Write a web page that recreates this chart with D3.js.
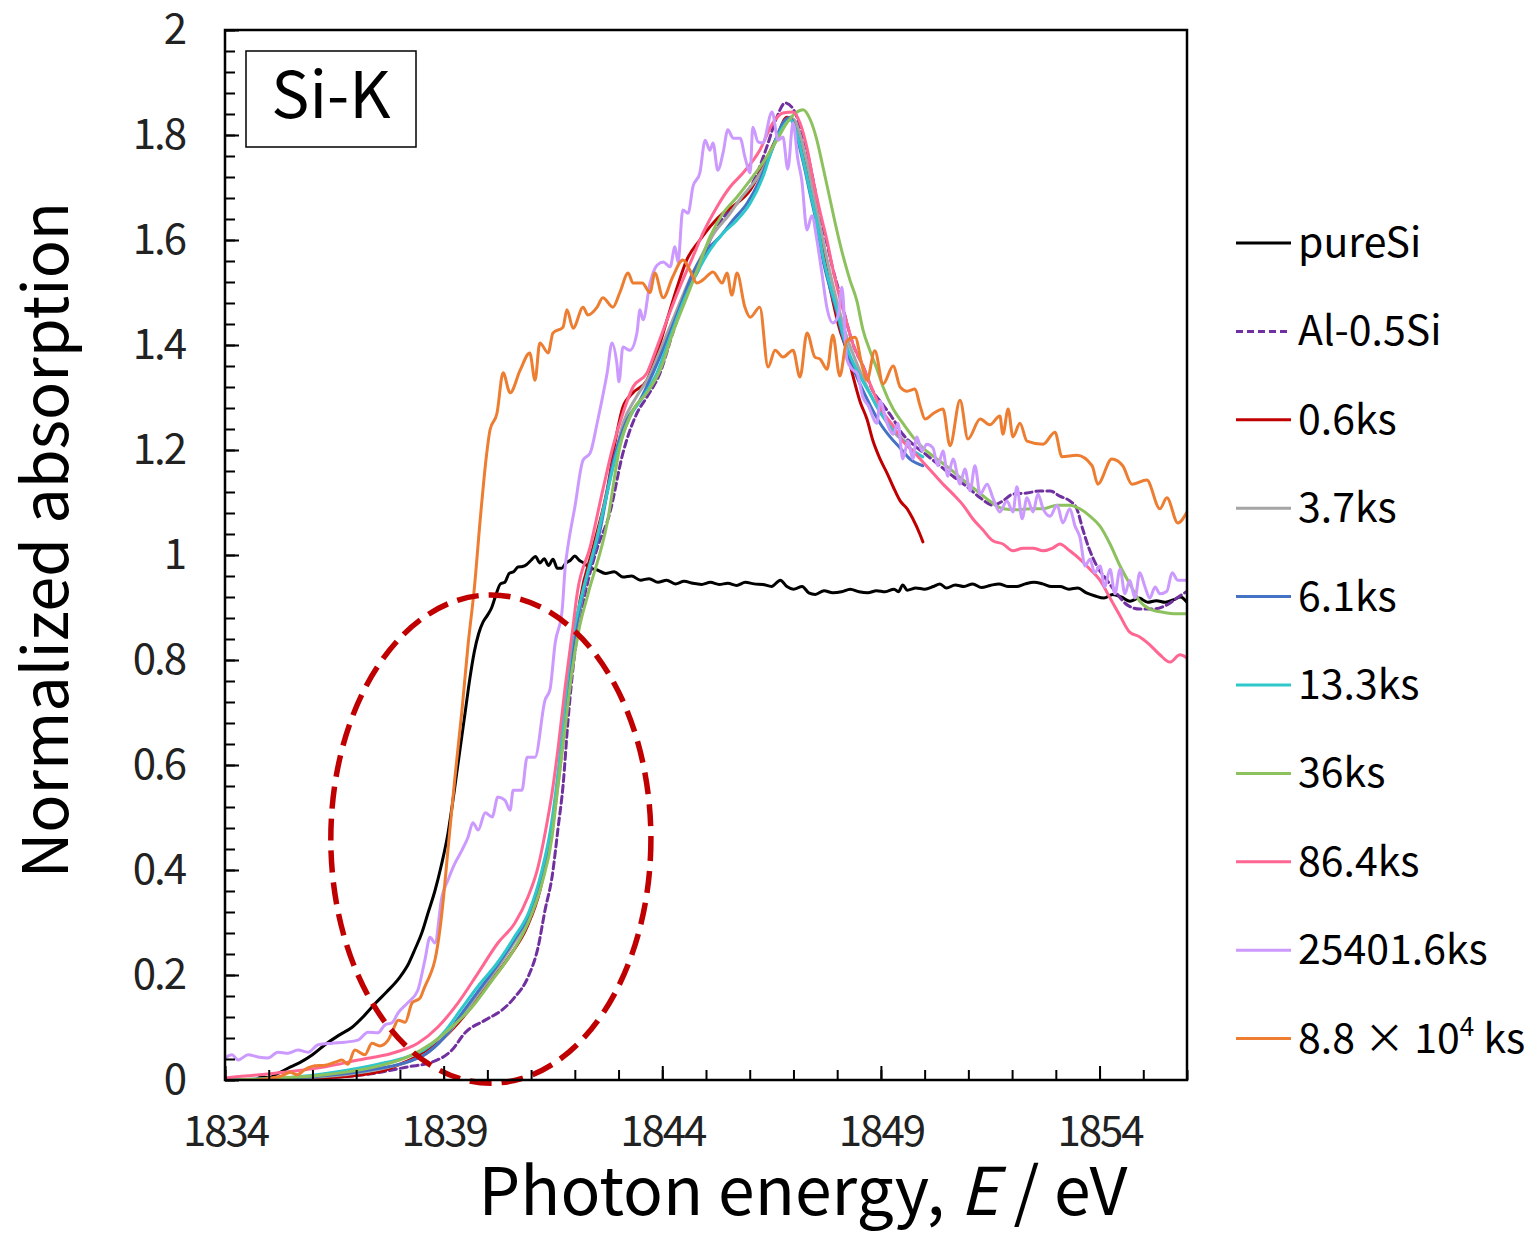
<!DOCTYPE html>
<html>
<head>
<meta charset="utf-8">
<script src="https://cdn.jsdelivr.net/npm/d3@7"></script>
<style>
  body { margin: 0; background: #fff; }
  svg { display: block; font-family: "Noto Sans CJK JP", "Noto Sans", sans-serif; }
</style>
</head>
<body>
<svg id="chart" width="1539" height="1234"></svg>
<script>
// ---- Si-K edge XANES spectra: [photon energy (eV), normalized absorption] ----
const pureSi = [[1834.7,0],[1834.85,0.006],[1835.0,0.004],[1835.2,0.012],[1835.5,0.025],[1835.75,0.035],[1836.0,0.048],[1836.3,0.068],[1836.6,0.085],[1836.9,0.1],[1837.2,0.124],[1837.45,0.147],[1837.7,0.168],[1838.0,0.196],[1838.2,0.222],[1838.35,0.25],[1838.5,0.28],[1838.65,0.32],[1838.8,0.36],[1838.95,0.41],[1839.1,0.47],[1839.2,0.525],[1839.3,0.585],[1839.4,0.645],[1839.5,0.705],[1839.6,0.765],[1839.7,0.815],[1839.8,0.85],[1839.9,0.872],[1840.0,0.885],[1840.1,0.9],[1840.2,0.925],[1840.3,0.945],[1840.4,0.948],[1840.5,0.965],[1840.6,0.968],[1840.7,0.977],[1840.8,0.978],[1840.9,0.982],[1841.0,0.99],[1841.1,0.997],[1841.2,0.985],[1841.3,0.993],[1841.4,0.98],[1841.5,0.992],[1841.6,0.975],[1841.7,0.975],[1841.8,0.985],[1841.9,0.99],[1842.0,0.998],[1842.1,0.99],[1842.2,0.985],[1842.35,0.975],[1842.5,0.972],[1842.7,0.965],[1842.9,0.968],[1843.1,0.958],[1843.3,0.96],[1843.5,0.952],[1843.7,0.955],[1843.9,0.948],[1844.1,0.952],[1844.3,0.945],[1844.5,0.95],[1844.7,0.946],[1844.9,0.944],[1845.1,0.948],[1845.3,0.944],[1845.5,0.946],[1845.7,0.942],[1845.9,0.948],[1846.1,0.945],[1846.3,0.944],[1846.5,0.94],[1846.7,0.952],[1846.85,0.94],[1847.0,0.935],[1847.2,0.94],[1847.35,0.928],[1847.5,0.925],[1847.7,0.932],[1847.9,0.928],[1848.1,0.93],[1848.3,0.935],[1848.5,0.93],[1848.7,0.928],[1848.9,0.932],[1849.1,0.93],[1849.3,0.935],[1849.4,0.93],[1849.5,0.943],[1849.6,0.933],[1849.8,0.937],[1850.0,0.935],[1850.2,0.94],[1850.35,0.945],[1850.5,0.937],[1850.7,0.943],[1850.9,0.94],[1851.1,0.945],[1851.3,0.938],[1851.5,0.942],[1851.7,0.945],[1851.9,0.94],[1852.1,0.94],[1852.3,0.945],[1852.5,0.948],[1852.7,0.945],[1852.9,0.94],[1853.1,0.94],[1853.3,0.935],[1853.5,0.937],[1853.7,0.928],[1853.9,0.922],[1854.1,0.918],[1854.3,0.925],[1854.5,0.92],[1854.7,0.912],[1854.9,0.918],[1855.1,0.91],[1855.3,0.913],[1855.5,0.91],[1855.7,0.915],[1855.85,0.92],[1856.0,0.91]];

const al05Si = [[1834.0,0],[1835.0,0.001],[1836.29,0.004],[1837.43,0.013],[1838.18,0.025],[1838.73,0.034],[1839.19,0.057],[1839.49,0.09],[1839.95,0.114],[1840.33,0.133],[1840.63,0.158],[1840.93,0.196],[1841.16,0.253],[1841.32,0.324],[1841.48,0.387],[1841.62,0.482],[1841.73,0.56],[1841.84,0.68],[1841.98,0.8],[1842.12,0.88],[1842.3,0.95],[1842.5,1.01],[1842.8,1.08],[1843.1,1.194],[1843.42,1.27],[1843.65,1.301],[1843.95,1.347],[1844.24,1.423],[1844.56,1.5],[1844.86,1.549],[1845.16,1.613],[1845.48,1.651],[1845.78,1.676],[1846.07,1.709],[1846.39,1.777],[1846.62,1.834],[1846.81,1.861],[1846.99,1.85],[1847.15,1.817],[1847.31,1.77],[1847.45,1.714],[1847.61,1.646],[1847.77,1.592],[1847.9,1.545],[1848.06,1.497],[1848.22,1.442],[1848.36,1.402],[1848.59,1.36],[1848.82,1.312],[1849.05,1.286],[1849.28,1.259],[1849.5,1.23],[1849.73,1.211],[1850.05,1.19],[1850.35,1.17],[1850.65,1.15],[1850.97,1.13],[1851.27,1.109],[1851.56,1.095],[1851.79,1.103],[1852.02,1.116],[1852.34,1.118],[1852.64,1.122],[1852.87,1.122],[1853.09,1.112],[1853.32,1.103],[1853.48,1.088],[1853.62,1.048],[1853.78,1.008],[1853.94,0.979],[1854.17,0.952],[1854.4,0.926],[1854.63,0.905],[1854.92,0.897],[1855.22,0.897],[1855.54,0.905],[1855.77,0.918],[1856.0,0.931]];

const ks0_6 = [[1834.0,0],[1835.5,0.001],[1836.5,0.005],[1837.5,0.015],[1838.0,0.03],[1838.5,0.05],[1839.0,0.08],[1839.5,0.125],[1840.0,0.18],[1840.5,0.235],[1840.9,0.29],[1841.2,0.36],[1841.4,0.44],[1841.55,0.53],[1841.7,0.63],[1841.85,0.74],[1842.0,0.84],[1842.12,0.914],[1842.42,1.015],[1842.74,1.124],[1842.96,1.232],[1843.1,1.282],[1843.33,1.309],[1843.65,1.333],[1843.88,1.385],[1844.11,1.448],[1844.34,1.51],[1844.56,1.562],[1844.86,1.6],[1845.16,1.632],[1845.39,1.651],[1845.71,1.67],[1846.01,1.695],[1846.3,1.739],[1846.62,1.796],[1846.85,1.834],[1846.99,1.83],[1847.15,1.789],[1847.31,1.735],[1847.45,1.674],[1847.61,1.606],[1847.77,1.537],[1847.9,1.484],[1848.06,1.429],[1848.22,1.389],[1848.36,1.341],[1848.52,1.293],[1848.68,1.259],[1848.82,1.217],[1848.98,1.183],[1849.14,1.156],[1849.28,1.13],[1849.44,1.103],[1849.6,1.088],[1849.73,1.069],[1849.89,1.04],[1849.96,1.025]];

const ks3_7 = [[1834.0,0],[1835.5,0.003],[1836.5,0.008],[1837.5,0.02],[1838.2,0.035],[1838.6,0.05],[1839.0,0.08],[1839.4,0.12],[1839.8,0.165],[1840.2,0.21],[1840.6,0.26],[1840.95,0.31],[1841.25,0.385],[1841.45,0.465],[1841.63,0.57],[1841.8,0.7],[1841.95,0.81],[1842.15,0.91],[1842.5,1.03],[1842.85,1.16],[1843.1,1.25],[1843.4,1.3],[1843.7,1.34],[1844.0,1.4],[1844.3,1.46],[1844.6,1.52],[1844.9,1.57],[1845.2,1.615],[1845.5,1.645],[1845.8,1.68],[1846.1,1.71],[1846.4,1.75],[1846.65,1.8],[1846.85,1.83],[1847.0,1.83],[1847.15,1.8],[1847.3,1.75],[1847.45,1.69],[1847.6,1.63],[1847.75,1.57],[1847.9,1.515],[1848.05,1.465],[1848.2,1.42],[1848.4,1.375],[1848.6,1.335],[1848.8,1.3],[1849.0,1.27],[1849.2,1.245],[1849.4,1.225],[1849.66,1.213]];

const ks6_1 = [[1834.0,0],[1835.5,0.004],[1836.5,0.01],[1837.5,0.022],[1838.2,0.035],[1838.6,0.05],[1839.0,0.08],[1839.4,0.125],[1839.8,0.17],[1840.2,0.215],[1840.6,0.265],[1840.95,0.315],[1841.25,0.39],[1841.45,0.47],[1841.63,0.58],[1841.8,0.71],[1841.95,0.82],[1842.15,0.914],[1842.58,1.048],[1842.87,1.175],[1843.19,1.257],[1843.49,1.295],[1843.79,1.347],[1844.11,1.41],[1844.4,1.472],[1844.7,1.537],[1845.02,1.581],[1845.32,1.606],[1845.62,1.638],[1845.94,1.67],[1846.23,1.714],[1846.53,1.777],[1846.76,1.823],[1846.92,1.834],[1847.08,1.796],[1847.22,1.749],[1847.38,1.688],[1847.54,1.627],[1847.67,1.564],[1847.83,1.51],[1847.99,1.463],[1848.13,1.415],[1848.29,1.373],[1848.52,1.326],[1848.75,1.286],[1848.98,1.251],[1849.21,1.225],[1849.44,1.204],[1849.66,1.183],[1849.96,1.17]];

const ks13_3 = [[1834.0,0],[1835.5,0.005],[1836.5,0.015],[1837.5,0.03],[1838.2,0.045],[1838.6,0.06],[1839.0,0.09],[1839.4,0.135],[1839.8,0.18],[1840.2,0.22],[1840.6,0.27],[1840.95,0.32],[1841.25,0.4],[1841.45,0.48],[1841.63,0.596],[1841.78,0.724],[1841.94,0.838],[1842.15,0.92],[1842.5,1.03],[1842.96,1.194],[1843.26,1.263],[1843.56,1.301],[1843.88,1.347],[1844.18,1.415],[1844.47,1.48],[1844.79,1.537],[1845.09,1.581],[1845.39,1.613],[1845.71,1.638],[1846.01,1.67],[1846.3,1.72],[1846.53,1.777],[1846.76,1.815],[1846.92,1.829],[1847.08,1.802],[1847.22,1.754],[1847.38,1.693],[1847.54,1.632],[1847.67,1.571],[1847.83,1.516],[1847.99,1.469],[1848.13,1.421],[1848.29,1.381],[1848.52,1.341],[1848.75,1.307],[1848.98,1.272],[1849.21,1.246],[1849.44,1.225],[1849.66,1.204],[1849.96,1.187]];

const ks36 = [[1834.0,0],[1835.3,0.004],[1836.29,0.01],[1837.43,0.025],[1838.18,0.044],[1838.73,0.07],[1839.19,0.101],[1839.65,0.139],[1840.11,0.19],[1840.56,0.242],[1840.93,0.299],[1841.25,0.375],[1841.48,0.463],[1841.61,0.558],[1841.78,0.672],[1841.94,0.781],[1842.1,0.86],[1842.3,0.925],[1842.74,1.061],[1843.03,1.206],[1843.33,1.276],[1843.65,1.309],[1843.95,1.352],[1844.24,1.423],[1844.56,1.491],[1844.86,1.556],[1845.09,1.606],[1845.39,1.651],[1845.71,1.682],[1846.01,1.714],[1846.3,1.747],[1846.62,1.79],[1846.85,1.823],[1847.05,1.842],[1847.22,1.848],[1847.38,1.83],[1847.54,1.789],[1847.67,1.741],[1847.83,1.68],[1847.99,1.619],[1848.13,1.571],[1848.29,1.524],[1848.45,1.484],[1848.59,1.429],[1848.75,1.389],[1848.91,1.354],[1849.05,1.32],[1849.28,1.278],[1849.5,1.251],[1849.73,1.225],[1849.96,1.204],[1850.28,1.183],[1850.58,1.164],[1850.88,1.143],[1851.2,1.122],[1851.49,1.103],[1851.79,1.088],[1852.11,1.086],[1852.41,1.088],[1852.71,1.088],[1853.03,1.095],[1853.32,1.095],[1853.55,1.088],[1853.78,1.074],[1854.01,1.055],[1854.24,1.021],[1854.47,0.979],[1854.69,0.945],[1854.92,0.912],[1855.15,0.897],[1855.45,0.891],[1855.77,0.888],[1856.0,0.888]];

const ks86_4 = [[1834.0,0.004],[1835.14,0.013],[1836.29,0.025],[1837.04,0.038],[1837.82,0.051],[1838.41,0.07],[1838.87,0.101],[1839.33,0.147],[1839.79,0.204],[1840.24,0.261],[1840.63,0.299],[1840.93,0.349],[1841.16,0.406],[1841.32,0.47],[1841.48,0.547],[1841.62,0.634],[1841.78,0.749],[1841.94,0.851],[1842.06,0.93],[1842.35,1.015],[1842.64,1.124],[1842.87,1.206],[1843.1,1.27],[1843.33,1.32],[1843.65,1.347],[1843.88,1.396],[1844.11,1.448],[1844.4,1.51],[1844.7,1.568],[1844.93,1.613],[1845.25,1.663],[1845.55,1.701],[1845.85,1.728],[1846.23,1.771],[1846.53,1.823],[1846.76,1.842],[1846.99,1.844],[1847.15,1.823],[1847.31,1.775],[1847.45,1.714],[1847.61,1.653],[1847.77,1.598],[1847.9,1.545],[1848.06,1.49],[1848.22,1.442],[1848.36,1.402],[1848.59,1.36],[1848.82,1.312],[1849.05,1.272],[1849.28,1.246],[1849.5,1.217],[1849.73,1.198],[1849.96,1.177],[1850.19,1.156],[1850.42,1.135],[1850.65,1.116],[1850.88,1.095],[1851.1,1.069],[1851.33,1.048],[1851.56,1.027],[1851.79,1.021],[1852.02,1.008],[1852.25,1.013],[1852.48,1.013],[1852.71,1.008],[1852.93,1.013],[1853.09,1.021],[1853.32,1.008],[1853.55,0.992],[1853.78,0.973],[1854.01,0.952],[1854.24,0.918],[1854.47,0.884],[1854.69,0.853],[1854.92,0.844],[1855.15,0.829],[1855.38,0.81],[1855.61,0.796],[1855.84,0.81],[1856.0,0.804]];

const ks25401_6 = [[1834.0,0.042],[1834.16,0.048],[1834.3,0.038],[1834.53,0.048],[1834.75,0.044],[1834.98,0.042],[1835.21,0.053],[1835.44,0.051],[1835.67,0.057],[1835.9,0.053],[1836.13,0.067],[1836.45,0.07],[1836.74,0.072],[1837.04,0.076],[1837.27,0.091],[1837.5,0.09],[1837.66,0.105],[1837.82,0.109],[1837.96,0.128],[1838.18,0.147],[1838.41,0.171],[1838.57,0.228],[1838.69,0.272],[1838.8,0.261],[1838.96,0.349],[1839.1,0.381],[1839.26,0.413],[1839.42,0.438],[1839.56,0.463],[1839.67,0.49],[1839.79,0.476],[1839.95,0.509],[1840.11,0.501],[1840.24,0.539],[1840.4,0.533],[1840.52,0.514],[1840.59,0.552],[1840.79,0.552],[1840.91,0.615],[1841.09,0.615],[1841.32,0.724],[1841.43,0.743],[1841.55,0.832],[1841.71,0.895],[1841.78,0.977],[1841.84,1.015],[1842.0,1.091],[1842.19,1.181],[1842.35,1.194],[1842.51,1.251],[1842.62,1.295],[1842.74,1.347],[1842.85,1.404],[1842.96,1.366],[1843.01,1.33],[1843.1,1.396],[1843.26,1.39],[1843.42,1.423],[1843.49,1.467],[1843.56,1.448],[1843.72,1.518],[1843.88,1.552],[1844.02,1.558],[1844.18,1.549],[1844.29,1.587],[1844.36,1.558],[1844.47,1.657],[1844.59,1.651],[1844.7,1.701],[1844.86,1.728],[1844.98,1.79],[1845.09,1.771],[1845.16,1.785],[1845.27,1.733],[1845.39,1.766],[1845.5,1.81],[1845.62,1.794],[1845.78,1.794],[1845.89,1.758],[1846.01,1.728],[1846.07,1.815],[1846.19,1.787],[1846.3,1.785],[1846.51,1.844],[1846.65,1.79],[1846.76,1.796],[1846.87,1.735],[1846.99,1.823],[1847.1,1.754],[1847.19,1.714],[1847.31,1.619],[1847.42,1.646],[1847.54,1.598],[1847.65,1.537],[1847.77,1.469],[1847.9,1.442],[1848.02,1.455],[1848.11,1.51],[1848.22,1.373],[1848.34,1.354],[1848.45,1.347],[1848.59,1.3],[1848.7,1.286],[1848.91,1.251],[1848.98,1.293],[1849.14,1.251],[1849.28,1.23],[1849.39,1.251],[1849.5,1.183],[1849.62,1.217],[1849.73,1.183],[1849.82,1.225],[1849.94,1.198],[1850.05,1.211],[1850.19,1.204],[1850.3,1.17],[1850.42,1.198],[1850.53,1.15],[1850.65,1.183],[1850.81,1.135],[1850.92,1.164],[1851.04,1.122],[1851.15,1.17],[1851.27,1.116],[1851.43,1.135],[1851.56,1.109],[1851.72,1.082],[1851.88,1.103],[1852.02,1.082],[1852.11,1.13],[1852.23,1.069],[1852.34,1.109],[1852.48,1.082],[1852.59,1.116],[1852.71,1.088],[1852.87,1.074],[1853.03,1.095],[1853.16,1.061],[1853.32,1.088],[1853.44,1.055],[1853.55,1.034],[1853.67,0.979],[1853.78,0.992],[1853.89,0.966],[1854.01,0.979],[1854.12,0.939],[1854.24,0.973],[1854.35,0.926],[1854.47,0.973],[1854.58,0.926],[1854.69,0.952],[1854.81,0.918],[1854.92,0.966],[1855.04,0.939],[1855.15,0.918],[1855.27,0.939],[1855.38,0.926],[1855.54,0.931],[1855.66,0.966],[1855.79,0.952],[1856.0,0.952]];

const ks88000 = [[1834.75,0],[1835.07,0.004],[1835.3,0.008],[1835.49,0.015],[1835.65,0.01],[1835.83,0.02],[1836.06,0.027],[1836.29,0.028],[1836.52,0.034],[1836.68,0.038],[1836.81,0.03],[1836.97,0.057],[1837.2,0.048],[1837.36,0.07],[1837.54,0.065],[1837.73,0.076],[1837.84,0.095],[1837.96,0.114],[1838.12,0.11],[1838.28,0.147],[1838.46,0.156],[1838.57,0.178],[1838.69,0.2],[1838.8,0.228],[1838.92,0.29],[1839.0,0.35],[1839.1,0.44],[1839.26,0.578],[1839.42,0.705],[1839.56,0.83],[1839.7,0.935],[1839.85,1.08],[1839.98,1.19],[1840.06,1.238],[1840.22,1.27],[1840.36,1.347],[1840.52,1.309],[1840.75,1.352],[1840.97,1.385],[1841.09,1.333],[1841.2,1.404],[1841.39,1.385],[1841.5,1.423],[1841.73,1.434],[1841.82,1.467],[1841.96,1.432],[1842.19,1.472],[1842.3,1.457],[1842.51,1.472],[1842.64,1.49],[1842.87,1.472],[1843.03,1.5],[1843.22,1.537],[1843.33,1.518],[1843.54,1.518],[1843.72,1.5],[1843.83,1.537],[1844.02,1.49],[1844.24,1.53],[1844.47,1.562],[1844.63,1.543],[1844.79,1.518],[1844.93,1.524],[1845.16,1.539],[1845.37,1.518],[1845.48,1.537],[1845.59,1.495],[1845.71,1.537],[1845.89,1.472],[1846.01,1.453],[1846.23,1.472],[1846.42,1.358],[1846.58,1.39],[1846.76,1.377],[1846.99,1.39],[1847.15,1.339],[1847.31,1.423],[1847.49,1.377],[1847.61,1.373],[1847.77,1.354],[1847.9,1.419],[1848.06,1.341],[1848.22,1.408],[1848.41,1.415],[1848.57,1.36],[1848.68,1.333],[1848.86,1.389],[1849.05,1.326],[1849.28,1.36],[1849.44,1.32],[1849.6,1.312],[1849.78,1.316],[1849.89,1.286],[1850.01,1.259],[1850.19,1.269],[1850.42,1.278],[1850.58,1.208],[1850.81,1.295],[1850.99,1.221],[1851.27,1.259],[1851.49,1.248],[1851.72,1.265],[1851.79,1.23],[1851.91,1.278],[1852.02,1.225],[1852.18,1.251],[1852.34,1.217],[1852.71,1.211],[1852.98,1.234],[1853.14,1.187],[1853.48,1.19],[1853.83,1.17],[1853.96,1.135],[1854.28,1.183],[1854.53,1.17],[1854.74,1.135],[1855.08,1.143],[1855.38,1.088],[1855.54,1.109],[1855.79,1.061],[1856.0,1.082]];

// ---- series styling / legend ----
const seriesNames  = ["pureSi", "Al-0.5Si", "0.6ks", "3.7ks", "6.1ks", "13.3ks", "36ks", "86.4ks", "25401.6ks", "8.8 × 10|4| ks"];
const seriesData   = [pureSi, al05Si, ks0_6, ks3_7, ks6_1, ks13_3, ks36, ks86_4, ks25401_6, ks88000];
const seriesColors = ["#000000", "#7030A0", "#C00000", "#A5A5A5", "#4472C4", "#2EC7CB", "#8DC15E", "#FF6692", "#CC99FF", "#ED7D31"];
const seriesDashed = [false, true, false, false, false, false, false, false, false, false];

// ---- axes ----
const xDomain = [1834, 1856];
const yDomain = [0, 2];
const xMajorTicks = [1834, 1839, 1844, 1849, 1854];
const xMinorTicks = d3.range(1834, 1857, 1);
const yMajorTicks = [0, 0.2, 0.4, 0.6, 0.8, 1.0, 1.2, 1.4, 1.6, 1.8, 2.0];
const yTickLabels = ["0", "0.2", "0.4", "0.6", "0.8", "1", "1.2", "1.4", "1.6", "1.8", "2"];
const yMinorTicks = d3.range(0, 51).map(i => i * 0.04);

// region highlighted with a dashed ellipse (centre energy, centre value, half-widths)
const highlight = { e: 1840.08, v: 0.459, de: 3.66, dv: 0.465 };

const plot = { left: 225, right: 1187, top: 30, bottom: 1080 };

const svg = d3.select("#chart");
const x = d3.scaleLinear().domain(xDomain).range([plot.left, plot.right]);
const y = d3.scaleLinear().domain(yDomain).range([plot.bottom, plot.top]);

svg.append("rect").attr("width", 1539).attr("height", 1234).attr("fill", "#fff");

svg.append("clipPath").attr("id", "plotClip")
  .append("rect")
  .attr("x", plot.left).attr("y", plot.top - 2)
  .attr("width", plot.right - plot.left).attr("height", plot.bottom - plot.top + 2);

// spectra
const line = d3.line()
  .x(d => x(d[0]))
  .y(d => y(d[1]))
  .curve(d3.curveMonotoneX);

const curves = svg.append("g").attr("clip-path", "url(#plotClip)");
seriesData.forEach((data, i) => {
  curves.append("path")
    .datum(data)
    .attr("d", line)
    .attr("fill", "none")
    .attr("stroke", seriesColors[i])
    .attr("stroke-width", 3)
    .attr("stroke-linejoin", "round")
    .attr("stroke-linecap", "round")
    .attr("stroke-dasharray", seriesDashed[i] ? "7,4" : null);
});

// dashed ellipse marking the pre-edge region
svg.append("ellipse")
  .attr("cx", x(highlight.e))
  .attr("cy", y(highlight.v))
  .attr("rx", x(highlight.e + highlight.de) - x(highlight.e))
  .attr("ry", y(highlight.v - highlight.dv) - y(highlight.v))
  .attr("fill", "none")
  .attr("stroke", "#C00000")
  .attr("stroke-width", 5.5)
  .attr("stroke-dasharray", "22,10");

// axes with inward ticks
const tickFont = g => g.selectAll("text")
  .attr("font-family", "'Noto Sans CJK JP', sans-serif")
  .attr("font-size", 42)
  .attr("fill", "#222")
  .attr("letter-spacing", -2);

const yMinor = svg.append("g").attr("transform", `translate(${plot.left},0)`)
  .call(d3.axisLeft(y).tickValues(yMinorTicks).tickSize(-10).tickFormat(""));
const yMajor = svg.append("g").attr("transform", `translate(${plot.left},0)`)
  .call(d3.axisLeft(y).tickValues(yMajorTicks).tickSize(-14).tickPadding(40)
    .tickFormat((d, i) => yTickLabels[i]))
  .call(tickFont);

const xMinor = svg.append("g").attr("transform", `translate(0,${plot.bottom})`)
  .call(d3.axisBottom(x).tickValues(xMinorTicks).tickSize(-10).tickFormat(""));
const xMajor = svg.append("g").attr("transform", `translate(0,${plot.bottom})`)
  .call(d3.axisBottom(x).tickValues(xMajorTicks).tickSize(-14).tickPadding(36)
    .tickFormat(d3.format("d")))
  .call(tickFont);

[yMinor, xMinor].forEach(g => g.selectAll("text").remove());
[yMinor, yMajor, xMinor, xMajor].forEach(g => {
  g.select(".domain").remove();
  g.selectAll("line").attr("stroke", "#000").attr("stroke-width", 2);
});

// plot frame
svg.append("rect")
  .attr("x", plot.left).attr("y", plot.top)
  .attr("width", plot.right - plot.left).attr("height", plot.bottom - plot.top)
  .attr("fill", "none").attr("stroke", "#000").attr("stroke-width", 2.5);

// edge label box
svg.append("rect")
  .attr("x", 246).attr("y", 51).attr("width", 170).attr("height", 96)
  .attr("fill", "#fff").attr("stroke", "#000").attr("stroke-width", 1.5);
svg.append("text")
  .attr("x", 331).attr("y", 118)
  .attr("text-anchor", "middle")
  .attr("font-size", 64)
  .attr("fill", "#000")
  .text("Si-K");

// axis titles
svg.append("text")
  .attr("transform", "translate(68,540) rotate(-90)")
  .attr("text-anchor", "middle")
  .attr("font-size", 63)
  .attr("fill", "#000")
  .text("Normalized absorption");

const xt = svg.append("text")
  .attr("x", 803).attr("y", 1215)
  .attr("text-anchor", "middle")
  .attr("font-size", 66)
  .attr("fill", "#000");
xt.append("tspan").text("Photon energy, ");
xt.append("tspan").attr("font-style", "italic").text("E");
xt.append("tspan").text(" / eV");

// legend
const legend = svg.append("g").attr("transform", "translate(1236,243)");
seriesNames.forEach((name, i) => {
  const g = legend.append("g").attr("transform", `translate(0,${i * 88.4})`);
  g.append("line")
    .attr("x1", 0).attr("x2", 55).attr("y1", 0).attr("y2", 0)
    .attr("stroke", seriesColors[i]).attr("stroke-width", 3)
    .attr("stroke-dasharray", seriesDashed[i] ? "7,4" : null);
  const t = g.append("text")
    .attr("x", 62).attr("y", 14)
    .attr("font-size", 41)
    .attr("fill", "#000");
  const parts = name.split("|");
  if (parts.length === 3) {
    t.append("tspan").text(parts[0]);
    t.append("tspan").attr("font-size", 26).attr("dy", -17).text(parts[1]);
    t.append("tspan").attr("dy", 17).text(parts[2]);
  } else {
    t.text(name);
  }
});
</script>
</body>
</html>
